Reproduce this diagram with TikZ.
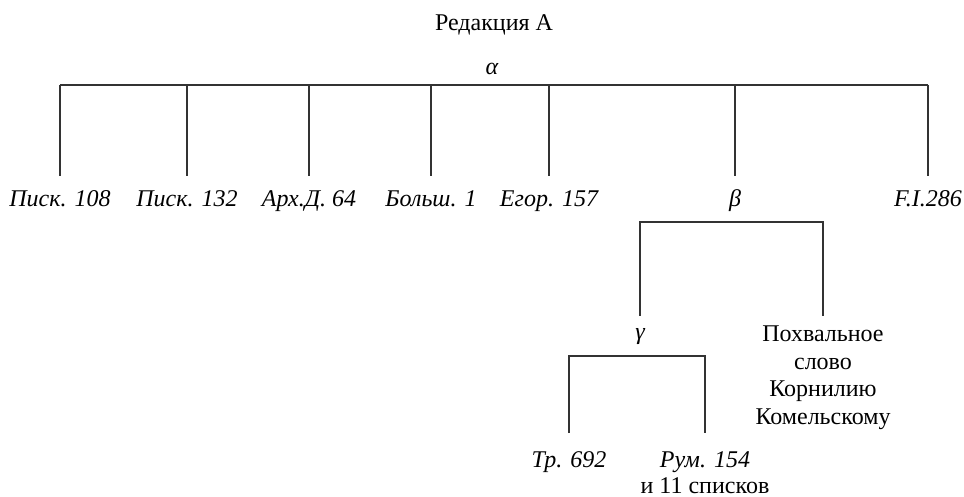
\documentclass[tikz,border=0pt]{standalone}
\usepackage{fontspec}
\setmainfont{Liberation Serif}
\begin{document}
\begin{tikzpicture}[x=0.5pt,y=-0.5pt,
    every node/.style={inner sep=0pt,anchor=base,font=\fontsize{12}{13.7}\selectfont},
    ms/.style={font=\fontsize{12}{13.7}\selectfont\itshape},
    tree/.style={line width=0.7pt,black!80}]
    \useasboundingbox (0,0) rectangle (964,497);
    \node (title) at (494,31) {Редакция А};
    \node[ms] (alpha) at (492,75) {α};
    % first row
    \node[ms] (p108) at (60,207) {Писк. 108};
    \node[ms] (p132) at (187,207) {Писк. 132};
    \node[ms] (arxd) at (309,207) {Арх.Д. 64};
    \node[ms] (bolsh) at (431,207) {Больш. 1};
    \node[ms] (egor) at (549,207) {Егор. 157};
    \node[ms] (beta) at (735,207) {β};
    \node[ms] (fi286) at (928,207) {F.I.286};
    % second row
    \node[ms] (gamma) at (640,340) {γ};
    \node[align=center] (praise) at (823,424)
        {Похвальное\\слово\\Корнилию\\Комельскому};
    \node[ms] (tr692) at (569,467) {Тр. 692};
    \node[align=center,font=\fontsize{12}{13}\selectfont] (rum154) at (705,493)
        {\itshape Рум. 154\\и 11 списков};
    \coordinate (abar) at (0,85);
    \coordinate (alow) at (0,176);
    \coordinate (bbar) at (0,222);
    \coordinate (blow) at (0,316);
    \coordinate (gbar) at (0,356);
    \coordinate (glow) at (0,433);
    \draw[tree] (p108 |- abar) -- (fi286 |- abar);
    \foreach \n in {p108,p132,arxd,bolsh,egor,beta,fi286}
        \draw[tree] (\n |- abar) -- (\n |- alow);
    \draw[tree] (gamma |- blow) |- (praise |- bbar) -- (praise |- blow);
    \draw[tree] (tr692 |- glow) |- (rum154 |- gbar) -- (rum154 |- glow);
\end{tikzpicture}
\end{document}
